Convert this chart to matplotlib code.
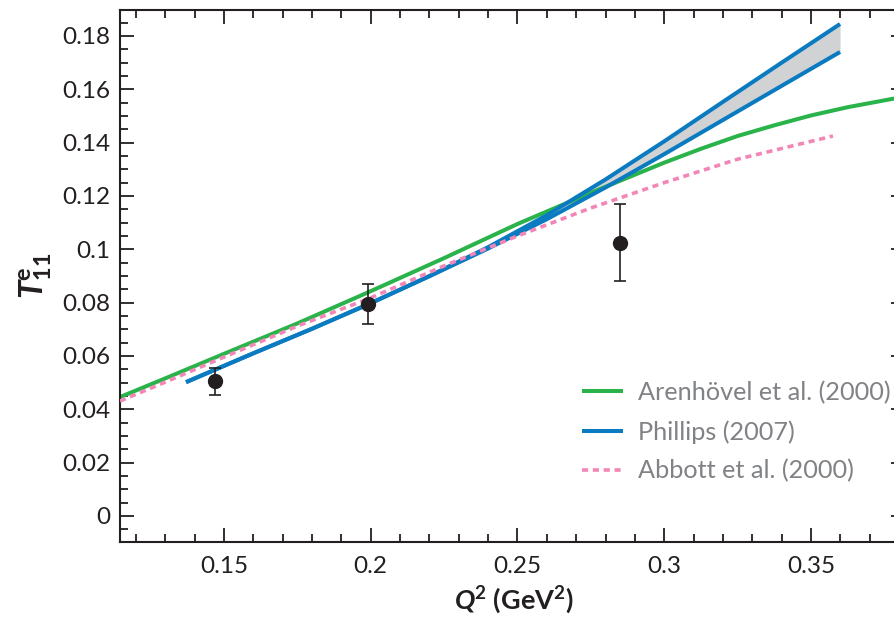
import matplotlib
matplotlib.use("Agg")
import matplotlib.pyplot as plt
from matplotlib.ticker import MultipleLocator

# ---- data ----
arenhovel_x = [0.1146, 0.13, 0.15, 0.175, 0.2, 0.225, 0.25, 0.275, 0.3, 0.3125, 0.325, 0.3375, 0.35, 0.3625, 0.3786, 0.383]
arenhovel_y = [0.0446, 0.0516, 0.0608, 0.0722, 0.0843, 0.0967, 0.1095, 0.1212, 0.1325, 0.1377, 0.1425, 0.1465, 0.1502, 0.1533, 0.1566, 0.1575]

phillips_x = [0.1371, 0.16, 0.18, 0.2, 0.22, 0.24, 0.26, 0.28, 0.30, 0.32, 0.34, 0.3599]
phillips_upper = [0.0502, 0.0610, 0.0702, 0.0798, 0.0900, 0.1008, 0.1128, 0.1262, 0.1405, 0.1553, 0.1700, 0.1845]
phillips_lower = [0.0502, 0.0610, 0.0702, 0.0798, 0.0899, 0.1003, 0.1113, 0.1232, 0.1357, 0.1485, 0.1613, 0.1740]

abbott_x = [0.1146, 0.13, 0.15, 0.175, 0.2, 0.225, 0.25, 0.275, 0.3, 0.325, 0.3575]
abbott_y = [0.0431, 0.0502, 0.0596, 0.0712, 0.0818, 0.0938, 0.1050, 0.1155, 0.1250, 0.1338, 0.1425]

data_x = [0.147, 0.199, 0.285]
data_y = [0.0505, 0.0795, 0.1025]
data_err = [0.0050, 0.0075, 0.0145]

xticks = [0.15, 0.2, 0.25, 0.3, 0.35]
xtick_labels = ["0.15", "0.2", "0.25", "0.3", "0.35"]
yticks = [0, 0.02, 0.04, 0.06, 0.08, 0.1, 0.12, 0.14, 0.16, 0.18]
ytick_labels = ["0", "0.02", "0.04", "0.06", "0.08", "0.1", "0.12", "0.14", "0.16", "0.18"]

labels = ["Arenhövel et al. (2000)", "Phillips (2007)", "Abbott et al. (2000)"]

# ---- style ----
plt.rcParams['font.family'] = ['Lato', 'DejaVu Sans']
plt.rcParams['mathtext.fontset'] = 'custom'
plt.rcParams['mathtext.rm'] = 'Lato:bold'
plt.rcParams['mathtext.bf'] = 'Lato:bold'
plt.rcParams['mathtext.it'] = 'Lato:italic'
plt.rcParams['mathtext.bfit'] = 'Lato:bold:italic'

dark = '#231f20'
green = '#2bb34b'
blue = '#0b7bc1'
pink = '#f287b7'
band = '#d1d2d4'

W, H = 895, 617
fig = plt.figure(figsize=(W / 100, H / 100), dpi=100)
left, right, top, bottom = 120, 905, 10, 542
ax = fig.add_axes([left / W, (H - bottom) / H, (right - left) / W, (bottom - top) / H])

ax.fill_between(phillips_x, phillips_lower, phillips_upper, color=band, lw=0, zorder=1)
ax.plot(arenhovel_x, arenhovel_y, color=green, lw=2.9, zorder=2, solid_capstyle='butt', label=labels[0])
ax.plot(phillips_x, phillips_upper, color=blue, lw=2.9, zorder=3, solid_capstyle='butt', label=labels[1])
ax.plot(phillips_x, phillips_lower, color=blue, lw=2.9, zorder=3, solid_capstyle='butt')
ax.plot(abbott_x, abbott_y, color=pink, lw=2.6, ls=(0, (1.7, 1.3)), zorder=4, label=labels[2])

ax.errorbar(data_x, data_y, yerr=data_err, fmt='o', color=dark, ms=10,
            elinewidth=1.2, capsize=4, capthick=1.2, zorder=5)

ax.set_xlim(0.1146, 0.35 + (right - 811) / 2935)
ax.set_ylim(-0.00975, 0.18 + 26 / 2667)

ax.set_xticks(xticks)
ax.set_xticklabels(xtick_labels)
ax.set_yticks(yticks)
ax.set_yticklabels(ytick_labels)
ax.xaxis.set_minor_locator(MultipleLocator(0.01))
ax.yaxis.set_minor_locator(MultipleLocator(0.005))
ax.tick_params(which='both', direction='in', top=True, right=True, color=dark, width=1.3)
ax.tick_params(which='major', length=10, labelsize=17.5, labelcolor=dark, pad=7)
ax.tick_params(which='minor', length=6)
ax.tick_params(axis='x', which='major', pad=10)
for s in ax.spines.values():
    s.set_color(dark)
    s.set_linewidth(1.5)

fig.text(514 / W, 1 - 600 / H, r'$\mathbfit{Q}^{\mathbf{2}}$ (GeV$^{\mathbf{2}}$)',
         fontsize=19.5, fontweight='bold', color=dark, ha='center', va='center')
fig.text(36 / W, 1 - 276 / H, r'$\mathbfit{T}^{\mathbf{e}}_{\mathbf{11}}$',
         fontsize=24, fontweight='bold', color=dark, ha='center', va='center', rotation=90)

leg = ax.legend(loc='upper left', bbox_to_anchor=(582 / W, 1 - 381 / H), bbox_transform=fig.transFigure,
                frameon=False, fontsize=18.2, labelcolor='#808285', borderpad=0, borderaxespad=0,
                handlelength=1.62, handletextpad=0.59, labelspacing=0.62)

fig.savefig('out.png', dpi=100)
